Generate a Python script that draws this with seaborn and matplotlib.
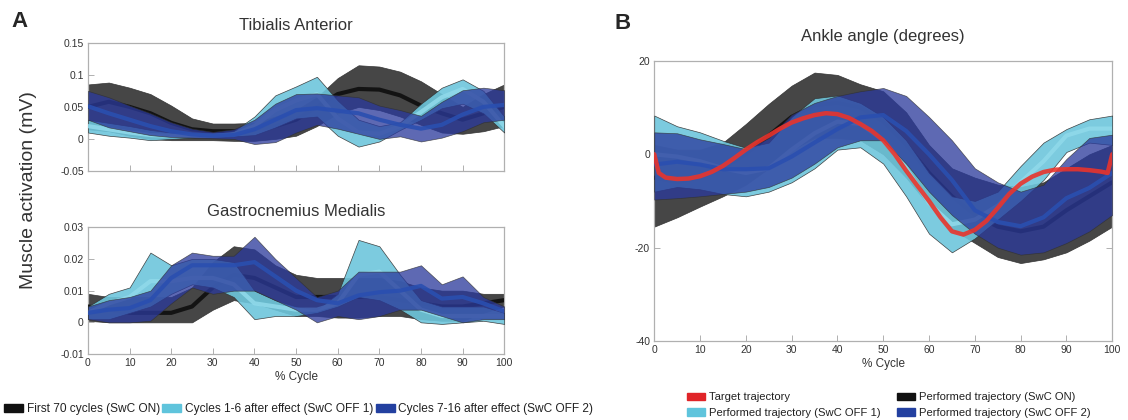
import numpy as np
import pandas as pd
import matplotlib
matplotlib.use("Agg")
import matplotlib.pyplot as plt
import matplotlib.patches as mpatches
import seaborn as sns

# ==============================
# Data
# ==============================

cycle = [0, 5, 10, 15, 20, 25, 30, 35, 40, 45, 50, 55, 60, 65, 70, 75, 80, 85, 90, 95, 100]

# Tibialis Anterior (mV)
ta_on_up = [0.085, 0.088, 0.08, 0.07, 0.052, 0.032, 0.024, 0.024, 0.025, 0.035, 0.045, 0.065, 0.095, 0.115, 0.113, 0.105, 0.09, 0.07, 0.05, 0.07, 0.085]
ta_on_mean = [0.05, 0.058, 0.05, 0.04, 0.025, 0.015, 0.012, 0.012, 0.015, 0.02, 0.03, 0.05, 0.07, 0.078, 0.077, 0.068, 0.052, 0.04, 0.03, 0.04, 0.05]
ta_on_lo = [0.015, 0.012, 0.005, 0.0, -0.002, -0.002, -0.002, -0.003, -0.003, 0.0, 0.005, 0.02, 0.04, 0.05, 0.045, 0.035, 0.022, 0.01, 0.008, 0.012, 0.02]

ta_off1_up = [0.03, 0.025, 0.02, 0.014, 0.01, 0.008, 0.008, 0.012, 0.035, 0.068, 0.082, 0.097, 0.06, 0.03, 0.02, 0.026, 0.055, 0.08, 0.093, 0.075, 0.035]
ta_off1_mean = [0.02, 0.015, 0.01, 0.006, 0.005, 0.005, 0.005, 0.007, 0.02, 0.045, 0.06, 0.07, 0.032, 0.01, 0.008, 0.02, 0.042, 0.065, 0.078, 0.058, 0.02]
ta_off1_lo = [0.01, 0.005, 0.002, -0.002, 0.0, 0.002, 0.004, 0.004, 0.006, 0.018, 0.032, 0.035, 0.005, -0.012, -0.004, 0.014, 0.03, 0.048, 0.055, 0.04, 0.01]

ta_off2_up = [0.075, 0.065, 0.052, 0.04, 0.026, 0.016, 0.011, 0.015, 0.03, 0.055, 0.07, 0.071, 0.068, 0.065, 0.052, 0.045, 0.036, 0.058, 0.076, 0.08, 0.076]
ta_off2_mean = [0.051, 0.04, 0.03, 0.02, 0.012, 0.007, 0.005, 0.006, 0.015, 0.03, 0.045, 0.048, 0.044, 0.04, 0.03, 0.022, 0.016, 0.022, 0.038, 0.05, 0.053]
ta_off2_lo = [0.03, 0.018, 0.012, 0.006, 0.003, 0.002, 0.001, 0.0, -0.008, -0.005, 0.01, 0.022, 0.016, 0.008, 0.0, 0.004, -0.004, 0.002, 0.012, 0.026, 0.03]

# Gastrocnemius Medialis (mV)
gm_on_up = [0.009, 0.008, 0.008, 0.008, 0.008, 0.011, 0.019, 0.024, 0.023, 0.018, 0.015, 0.014, 0.014, 0.014, 0.014, 0.013, 0.011, 0.01, 0.01, 0.009, 0.009]
gm_on_mean = [0.005, 0.004, 0.003, 0.003, 0.003, 0.005, 0.011, 0.015, 0.014, 0.011, 0.008, 0.008, 0.008, 0.008, 0.008, 0.007, 0.006, 0.005, 0.005, 0.006, 0.007]
gm_on_lo = [0.0005, 0.0, 0.0, 0.0, 0.0, 0.0, 0.004, 0.007, 0.006, 0.004, 0.002, 0.002, 0.0015, 0.0015, 0.002, 0.002, 0.001, 0.0005, 0.0005, 0.003, 0.005]

gm_off1_up = [0.005, 0.009, 0.011, 0.022, 0.018, 0.02, 0.02, 0.019, 0.01, 0.007, 0.005, 0.004, 0.009, 0.026, 0.024, 0.015, 0.007, 0.005, 0.005, 0.005, 0.003]
gm_off1_mean = [0.003, 0.006, 0.008, 0.013, 0.013, 0.014, 0.014, 0.012, 0.006, 0.005, 0.004, 0.004, 0.006, 0.015, 0.016, 0.01, 0.004, 0.002, 0.002, 0.002, 0.002]
gm_off1_lo = [0.001, 0.001, 0.003, 0.005, 0.009, 0.012, 0.011, 0.008, 0.001, 0.002, 0.002, 0.003, 0.005, 0.008, 0.007, 0.004, 0.0, -0.0005, 0.0, 0.0005, -0.0005]

gm_off2_up = [0.005, 0.007, 0.008, 0.01, 0.018, 0.022, 0.021, 0.021, 0.027, 0.02, 0.014, 0.008, 0.01, 0.016, 0.016, 0.016, 0.018, 0.012, 0.0145, 0.008, 0.005]
gm_off2_mean = [0.003, 0.004, 0.0045, 0.007, 0.014, 0.018, 0.018, 0.018, 0.019, 0.0145, 0.01, 0.007, 0.006, 0.0085, 0.0095, 0.01, 0.0115, 0.0075, 0.008, 0.006, 0.0035]
gm_off2_lo = [0.001, 0.0, 0.0, 0.0005, 0.006, 0.011, 0.009, 0.01, 0.01, 0.007, 0.004, 0.0, 0.002, 0.001, 0.002, 0.004, 0.004, 0.002, 0.0, 0.001, 0.001]

# Ankle angle (degrees)
ank_on_up = [2, 1, 1, 2.5, 6.5, 10.8, 14.7, 17.5, 17, 15, 13.5, 9, 2, -3, -5, -6.5, -7, -6, -3, 0, 2]
ank_on_mean = [-5, -6, -5, -3, 0, 4, 8, 10.5, 11, 10, 7, 2, -4, -9, -13, -15.5, -16.5, -15.5, -12, -9, -6]
ank_on_lo = [-15.5, -13.5, -11.2, -9, -6.5, -3, 1, 3.5, 3.5, 3, 0, -5, -11, -16, -19, -22, -23.3, -22.5, -21, -18.5, -15.5]

ank_off1_up = [8.3, 6, 4.7, 2.9, 1.4, 2.5, 8, 12, 12.6, 11, 8, 3, -4, -9, -10, -8, -2.5, 2.5, 5.4, 7.5, 8.3]
ank_off1_mean = [0, -0.5, -1.5, -3, -4, -3, 1, 4.5, 7, 6.5, 3, -3, -10.5, -15, -14, -11, -6, -1.5, 4, 5.5, 5.5]
ank_off1_lo = [-8, -7, -7.5, -8.5, -9, -8, -6, -3, 1, 1.5, -2, -9, -17, -21, -18, -14, -10, -5.5, 0.5, 2.5, 2]

ank_off2_up = [4.7, 4.5, 3.2, 2.2, 1.1, 3.5, 8.5, 11, 12.5, 13.5, 14.2, 12.5, 8, 3, -3, -6, -8, -6.5, -1, 3.5, 4.2]
ank_off2_mean = [-2.2, -1.6, -2.2, -3.2, -3.2, -3, -0.5, 2.5, 5.4, 7.9, 8.4, 5, 0, -5.5, -12, -14.5, -15.4, -13.5, -9.4, -7.2, -4]
ank_off2_lo = [-9.7, -9.4, -9, -8.5, -8, -7, -5, -2, 1.5, 3, 3, -2, -8, -13, -17, -20, -21.5, -21, -19, -16.5, -13]

target_x = [0, 1, 2.5, 5, 7.5, 10, 12.5, 15, 17.5, 20, 22.5, 25, 27.5, 30, 32.5, 35, 37.5, 40, 42.5, 45, 47.5,
            50, 52.5, 55, 57.5, 60, 62.5, 65, 67.5, 70, 72.5, 75, 77.5, 80, 82.5, 85, 87.5, 90, 92.5, 95, 97.5, 99, 100]
target_y = [0, -4, -5.0, -5.3, -5.2, -4.7, -3.8, -2.5, -0.8, 1.0, 2.6, 4.0, 5.5, 6.8, 7.7, 8.4, 8.8, 8.6, 7.8, 6.5, 5.0,
            3.0, 0.0, -3.5, -6.8, -10, -13.5, -16.5, -17.2, -16.2, -14.3, -11.5, -8.5, -6.3, -4.8, -3.8, -3.3, -3.2, -3.2, -3.4, -3.7, -4.0, 0]

# ==============================
# Style
# ==============================

sns.set_style("white")
plt.rcParams["font.family"] = ["Liberation Sans", "DejaVu Sans"]
plt.rcParams["axes.unicode_minus"] = False

C_ON, C_ON_LINE = "#3c3c3c", "#0e0e0e"
C_OFF1, C_OFF1_LINE = "#6ec6dc", "#8fd9ea"
C_OFF2, C_OFF2_LINE = "#2b3a9c", "#2a4fb0"
C_TARGET = "#e8342c"
SPINE = "#b0b0b0"


def band(ax, up, mean, lo, fill, line, alpha, layer):
    # each group: band, then its mean, stacked over the previous group
    ax.fill_between(cycle, lo, up, facecolor=fill, alpha=alpha,
                    edgecolor="#303030", linewidth=0.5, zorder=2 + 2 * layer)
    sns.lineplot(x=cycle, y=mean, ax=ax, color=line, lw=3, alpha=0.9,
                 zorder=3 + 2 * layer)


def style_axes(ax, right_ticks=False):
    for s in ax.spines.values():
        s.set_color(SPINE)
        s.set_linewidth(0.9)
    ax.tick_params(direction="in", length=4, width=0.7, color=SPINE,
                   labelsize=7.5, labelcolor="#333333", pad=3,
                   left=True, bottom=True, right=right_ticks)
    ax.set_xlim(0, 100)
    ax.set_xticks(range(0, 101, 10))


fig = plt.figure(figsize=(11.28, 4.2), dpi=100)

# ==============================
# A - Tibialis Anterior
# ==============================

ax1 = fig.add_axes([0.078, 0.593, 0.369, 0.305])
band(ax1, ta_on_up, ta_on_mean, ta_on_lo, C_ON, C_ON_LINE, 0.95, 0)
band(ax1, ta_off1_up, ta_off1_mean, ta_off1_lo, C_OFF1, C_OFF1_LINE, 0.9, 1)
band(ax1, ta_off2_up, ta_off2_mean, ta_off2_lo, C_OFF2, C_OFF2_LINE, 0.76, 2)
style_axes(ax1)
ax1.set_ylim(-0.05, 0.15)
ax1.set_yticks([-0.05, 0, 0.05, 0.1, 0.15])
ax1.set_yticklabels(["-0.05", "0", "0.05", "0.1", "0.15"])
ax1.set_xticklabels([])
ax1.set_title("Tibialis Anterior", fontsize=12, color="#333333", pad=9)

# ==============================
# A - Gastrocnemius Medialis
# ==============================

ax2 = fig.add_axes([0.078, 0.157, 0.369, 0.302])
band(ax2, gm_on_up, gm_on_mean, gm_on_lo, C_ON, C_ON_LINE, 0.95, 0)
band(ax2, gm_off1_up, gm_off1_mean, gm_off1_lo, C_OFF1, C_OFF1_LINE, 0.9, 1)
band(ax2, gm_off2_up, gm_off2_mean, gm_off2_lo, C_OFF2, C_OFF2_LINE, 0.76, 2)
style_axes(ax2)
ax2.set_ylim(-0.01, 0.03)
ax2.set_yticks([-0.01, 0, 0.01, 0.02, 0.03])
ax2.set_yticklabels(["-0.01", "0", "0.01", "0.02", "0.03"])
ax2.set_xlabel("% Cycle", fontsize=8.5, color="#333333", labelpad=2)
ax2.set_title("Gastrocnemius Medialis", fontsize=12, color="#333333", pad=8)

fig.text(0.025, 0.548, "Muscle activation (mV)", rotation=90, ha="center",
         va="center", fontsize=14, color="#333333")

# ==============================
# B - Ankle angle
# ==============================

ax3 = fig.add_axes([0.580, 0.188, 0.406, 0.667])
band(ax3, ank_on_up, ank_on_mean, ank_on_lo, C_ON, C_ON_LINE, 0.95, 0)
band(ax3, ank_off1_up, ank_off1_mean, ank_off1_lo, C_OFF1, C_OFF1_LINE, 0.9, 1)
band(ax3, ank_off2_up, ank_off2_mean, ank_off2_lo, C_OFF2, C_OFF2_LINE, 0.76, 2)
sns.lineplot(x=target_x, y=target_y, ax=ax3, color=C_TARGET, lw=3.2, alpha=0.9, zorder=10)
style_axes(ax3, right_ticks=True)
ax3.set_ylim(-40, 20)
ax3.set_yticks([-40, -20, 0, 20])
ax3.set_xlabel("% Cycle", fontsize=8.5, color="#333333", labelpad=2)
ax3.set_title("Ankle angle (degrees)", fontsize=12, color="#333333", pad=14)

# panel letters
fig.text(0.010, 0.935, "A", fontsize=16, fontweight="bold")
fig.text(0.545, 0.93, "B", fontsize=16, fontweight="bold")

# ==============================
# Legends
# ==============================

leg_a = [mpatches.Patch(color="#111111", label="First 70 cycles (SwC ON)"),
         mpatches.Patch(color="#5fc4dc", label="Cycles 1-6 after effect (SwC OFF 1)"),
         mpatches.Patch(color="#2340a0", label="Cycles 7-16 after effect (SwC OFF 2)")]
fig.legend(handles=leg_a, loc="center left", bbox_to_anchor=(-0.006, 0.026), ncol=3,
           frameon=False, fontsize=8.6, handlelength=1.6, handleheight=0.6,
           handletextpad=0.3, columnspacing=0.2, labelcolor="#222222")

leg_b = [mpatches.Patch(color="#e02428", label="Target trajectory"),
         mpatches.Patch(color="#5fc4dc", label="Performed trajectory (SwC OFF 1)"),
         mpatches.Patch(color="#111111", label="Performed trajectory (SwC ON)"),
         mpatches.Patch(color="#2340a0", label="Performed trajectory (SwC OFF 2)")]
fig.legend(handles=leg_b, loc="upper left", bbox_to_anchor=(0.600, 0.09), ncol=2,
           frameon=False, fontsize=8.1, handlelength=1.6, handleheight=0.6,
           handletextpad=0.4, columnspacing=1.4, labelspacing=0.5, labelcolor="#222222")

fig.savefig("out.png", dpi=100)
